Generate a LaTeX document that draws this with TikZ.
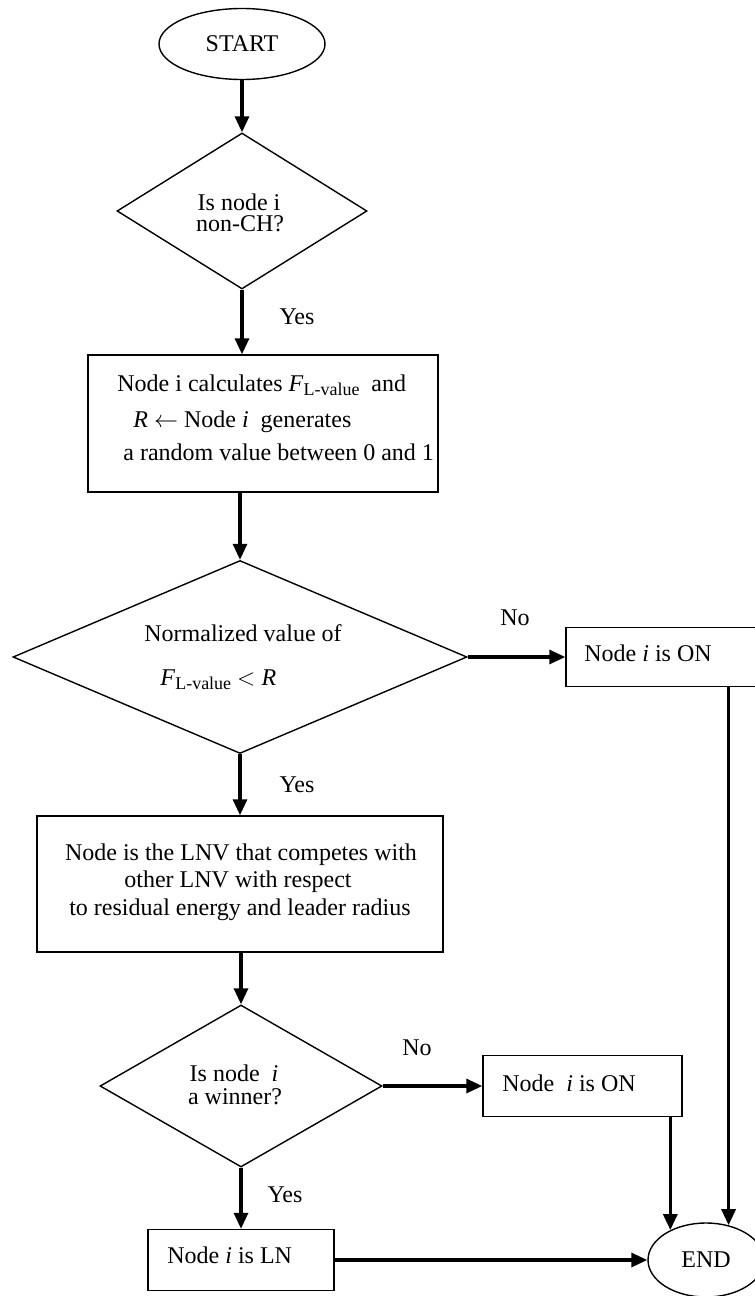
\documentclass[tikz,border=0pt]{standalone}
\usepackage{fontspec}
\setmainfont{Liberation Serif}
\usetikzlibrary{shapes.geometric,arrows.meta}
\newcommand{\Flv}{\textit{F}\raisebox{-0.35ex}{\fontsize{9}{9}\selectfont L-value}}
\begin{document}
\begin{tikzpicture}[x=0.5pt,y=-0.5pt,
  shp/.style={draw, line width=0.7pt, inner sep=0pt},
  box/.style={shp, rectangle},
  dia/.style={shp, diamond},
  oval/.style={shp, ellipse},
  txt/.style={font=\fontsize{12}{14}\selectfont, inner sep=0pt},
  arr/.style={line width=1.6pt, -{Triangle[length=8pt,width=7pt]}}]
\useasboundingbox (0,0) rectangle (755,1296);
\clip (0,0) rectangle (755,1296);

% start
\node[oval, txt, minimum width=83pt, minimum height=35.5pt] (start) at (242,44) {START};

% decision 1
\node[dia, minimum width=125pt, minimum height=78pt] (d1) at (242,211) {};
\node[txt] (d1a) at (239,202) {Is node i};
\node[txt] (d1b) at (240,224) {non-CH?};

% box 1
\node[box, minimum width=175pt, minimum height=68.5pt] (b1) at (263,423.5) {};
\node[txt, anchor=west] (b1a) at (117,385) {Node i calculates \Flv\ \ and};
\node[txt, anchor=west] (b1b) at (133,422) {\textit{R} $\leftarrow$ Node \textit{i}\ \ generates};
\node[txt, anchor=west] (b1c) at (123,452) {a random value between 0 and 1};

% decision 2
\node[dia, minimum width=227pt, minimum height=96.5pt] (d2) at (240,657) {};
\node[txt] (d2a) at (243,633) {Normalized value of};
\node[txt, anchor=west] (d2b) at (160,680) {\Flv\ $<$ \textit{R}};

% ON box 1
\node[box, minimum width=97pt, minimum height=29.5pt] (on1) at (663,657) {};
\node[txt, anchor=west] (on1t) at (584,653) {Node \textit{i} is ON};

% box 2
\node[box, minimum width=203pt, minimum height=68pt] (b2) at (240,884) {};
\node[txt] (b2a) at (241,855) {Node is the LNV that competes with};
\node[txt] (b2b) at (238,882) {other LNV with respect};
\node[txt] (b2c) at (240,910) {to residual energy and leader radius};

% decision 3
\node[dia, minimum width=141pt, minimum height=81pt] (d3) at (241,1086) {};
\node[txt] (d3a) at (234,1073) {Is node~ \textit{i}};
\node[txt] (d3b) at (235,1097) {a winner?};

% ON box 2
\node[box, minimum width=99.5pt, minimum height=30.5pt] (on2) at (582.5,1086) {};
\node[txt, anchor=west] (on2t) at (502,1083) {Node~ \textit{i} is ON};

% LN box
\node[box, minimum width=93pt, minimum height=30.5pt] (ln) at (241,1260) {};
\node[txt, anchor=west] (lnt) at (167,1255) {Node \textit{i} is LN};

% end
\node[oval, txt, minimum width=58pt, minimum height=37pt] (end) at (706,1260) {END};

% labels
\node[txt] (y1) at (297,317) {Yes};
\node[txt] (y2) at (297,785) {Yes};
\node[txt] (y3) at (285,1195) {Yes};
\node[txt] (n1) at (515,618) {No};
\node[txt] (n2) at (417,1048) {No};

% connectors
\draw[arr] (start.south) -- (d1.north);
\draw[arr] (d1.south) -- (d1.south |- b1.north);
\draw[arr] (b1.south -| d2.north) -- (d2.north);
\draw[arr] (d2.east) -- (on1.west);
\draw[arr] (on1.south -| end.57) -- (end.57);
\draw[arr] (d2.south) -- (d2.south |- b2.north);
\draw[arr] (b2.south -| d3.north) -- (d3.north);
\draw[arr] (d3.east) -- (on2.west);
\draw[arr] (on2.south -| end.140) -- (end.140);
\draw[arr] (d3.south) -- (d3.south |- ln.north);
\draw[arr] (ln.east) -- (end.west);
\end{tikzpicture}
\end{document}
